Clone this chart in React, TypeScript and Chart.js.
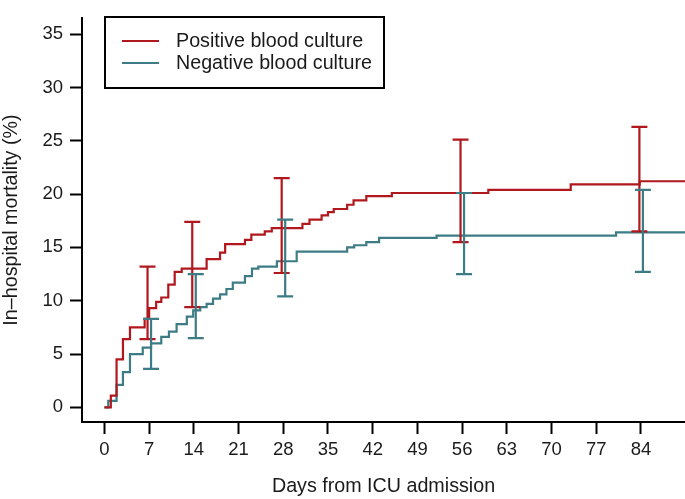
import React, { useEffect, useRef } from "react";
import { Chart, registerables } from "chart.js";

Chart.register(...registerables);

const seriesLabels = ["Positive blood culture", "Negative blood culture"];

// Kaplan–Meier style cumulative mortality, change points (day, %)
const posDays = [0, 1.0, 1.9, 2.9, 4.0, 6.3, 7.0, 8.1, 8.9, 10.0, 11.0, 12.1, 16.0, 18.1, 18.9, 22.0, 23.0, 25.1, 26.2, 31.0, 32.1, 34.0, 35.0, 35.9, 38.0, 39.0, 41.0, 45.0, 60.1, 73.0, 83.8, 92];
const posValues = [0, 1.1, 4.5, 6.4, 7.5, 8.3, 9.3, 9.9, 10.3, 11.5, 12.7, 13.0, 13.9, 14.5, 15.3, 15.7, 16.2, 16.5, 16.8, 17.2, 17.6, 18.0, 18.3, 18.6, 19.0, 19.4, 19.8, 20.1, 20.4, 20.9, 21.2, 21.2];

const negDays = [0, 0.6, 1.9, 2.9, 4.0, 6.0, 7.3, 8.9, 10.1, 11.3, 12.9, 13.9, 15.0, 16.0, 17.0, 18.1, 19.1, 20.1, 22.0, 23.1, 24.1, 27.0, 30.1, 38.0, 39.1, 41.0, 43.0, 52.0, 80.1, 92];
const negValues = [0, 0.6, 2.1, 3.3, 5.0, 5.6, 6.0, 6.6, 7.1, 7.8, 8.5, 9.1, 9.4, 9.7, 10.2, 10.6, 11.1, 11.7, 12.3, 13.0, 13.2, 13.7, 14.6, 15.0, 15.2, 15.5, 15.9, 16.1, 16.4, 16.4];

// 95% CI error bars at selected days
const errDays = [7, 14, 28, 56, 84];
const posLow = [6.4, 9.4, 12.6, 15.5, 16.5];
const posHigh = [13.2, 17.4, 21.5, 25.1, 26.3];
const negLow = [3.6, 6.5, 10.4, 12.5, 12.7];
const negHigh = [8.3, 12.5, 17.6, 20.1, 20.4];

const xTicks = [0, 7, 14, 21, 28, 35, 42, 49, 56, 63, 70, 77, 84];
const yTicks = [0, 5, 10, 15, 20, 25, 30, 35];

const xTitle = "Days from ICU admission";
const yTitle = "In\u2013hospital mortality (%)";

const RED = "#B0181D";
const TEAL = "#3D7C85";
const FONT = "'Liberation Sans', Arial, sans-serif";
const TEXT = "#1a1a1a";

const errorBarPlugin = {
  id: "errorBars",
  afterDatasetsDraw(chart: any) {
    const { ctx } = chart;
    const xs = chart.scales.x;
    const ys = chart.scales.y;
    const groups = [
      { low: posLow, high: posHigh, color: RED, dodge: -0.25 },
      { low: negLow, high: negHigh, color: TEAL, dodge: 0.3 },
    ];
    ctx.save();
    ctx.lineWidth = 2.2;
    ctx.lineCap = "butt";
    groups.forEach((g) => {
      ctx.strokeStyle = g.color;
      errDays.forEach((d, i) => {
        const px = xs.getPixelForValue(d + g.dodge);
        const pl = ys.getPixelForValue(g.low[i]);
        const ph = ys.getPixelForValue(g.high[i]);
        ctx.beginPath();
        ctx.moveTo(px, pl);
        ctx.lineTo(px, ph);
        ctx.moveTo(px - 8, pl);
        ctx.lineTo(px + 8, pl);
        ctx.moveTo(px - 8, ph);
        ctx.lineTo(px + 8, ph);
        ctx.stroke();
      });
    });
    ctx.restore();
  },
};

const legendPlugin = {
  id: "boxLegend",
  afterDraw(chart: any) {
    const { ctx } = chart;
    ctx.save();
    ctx.fillStyle = "#ffffff";
    ctx.fillRect(105, 17, 279, 71);
    ctx.strokeStyle = "#000000";
    ctx.lineWidth = 2;
    ctx.strokeRect(105, 17, 279, 71);
    const colors = [RED, TEAL];
    const rows = [41, 63];
    ctx.font = `19.7px ${FONT}`;
    ctx.textBaseline = "middle";
    ctx.textAlign = "left";
    seriesLabels.forEach((lab, i) => {
      ctx.strokeStyle = colors[i];
      ctx.lineWidth = 2.2;
      ctx.beginPath();
      ctx.moveTo(122, rows[i]);
      ctx.lineTo(159, rows[i]);
      ctx.stroke();
      ctx.fillStyle = TEXT;
      ctx.fillText(lab, 176, rows[i] + 1);
    });
    ctx.restore();
  },
};

export default function App() {
  const ref = useRef<HTMLCanvasElement | null>(null);

  useEffect(() => {
    if (!ref.current) return;
    const toPts = (xs: number[], ys: number[]) => xs.map((x, i) => ({ x, y: ys[i] }));
    const chart = new Chart(ref.current, {
      type: "line",
      data: {
        datasets: [
          {
            label: seriesLabels[0],
            data: toPts(posDays, posValues),
            borderColor: RED,
            borderWidth: 2.2,
            pointRadius: 0,
            stepped: "before",
            fill: false,
          },
          {
            label: seriesLabels[1],
            data: toPts(negDays, negValues),
            borderColor: TEAL,
            borderWidth: 2.2,
            pointRadius: 0,
            stepped: "before",
            fill: false,
          },
        ],
      },
      options: {
        animation: false,
        responsive: false,
        devicePixelRatio: 1,
        layout: { padding: 0 },
        plugins: {
          legend: { display: false },
          tooltip: { enabled: false },
        },
        scales: {
          x: {
            type: "linear",
            min: -3.51,
            max: 90.89,
            afterBuildTicks: (s: any) => {
              s.ticks = xTicks.map((v) => ({ value: v }));
            },
            afterFit: (s: any) => {
              s.height = 77;
            },
            grid: {
              drawOnChartArea: false,
              drawTicks: true,
              tickLength: 12,
              tickWidth: 2,
              tickColor: "#000",
            },
            border: { display: true, color: "#000", width: 2 },
            ticks: {
              autoSkip: false,
              maxRotation: 0,
              padding: 5,
              color: TEXT,
              font: { family: FONT, size: 18.5 },
            },
            title: {
              display: true,
              text: xTitle,
              color: TEXT,
              font: { family: FONT, size: 19.7 },
              padding: { top: 0, bottom: 1 },
            },
          },
          y: {
            type: "linear",
            min: -1.373,
            max: 36.5,
            afterBuildTicks: (s: any) => {
              s.ticks = yTicks.map((v) => ({ value: v }));
            },
            afterFit: (s: any) => {
              s.width = 82;
            },
            grid: {
              drawOnChartArea: false,
              drawTicks: true,
              tickLength: 12,
              tickWidth: 2,
              tickColor: "#000",
            },
            border: { display: true, color: "#000", width: 2 },
            ticks: {
              autoSkip: false,
              padding: 7,
              color: TEXT,
              font: { family: FONT, size: 18.5 },
            },
            title: {
              display: true,
              text: yTitle,
              color: TEXT,
              font: { family: FONT, size: 19.7 },
              padding: { top: 0, bottom: 0 },
            },
          },
        },
      },
      plugins: [errorBarPlugin, legendPlugin],
    } as any);
    return () => chart.destroy();
  }, []);

  return (
    <div style={{ position: "absolute", left: 0, top: 0, width: 685, height: 499, background: "#fff" }}>
      <canvas ref={ref} width={685} height={499} style={{ display: "block" }} />
    </div>
  );
}
